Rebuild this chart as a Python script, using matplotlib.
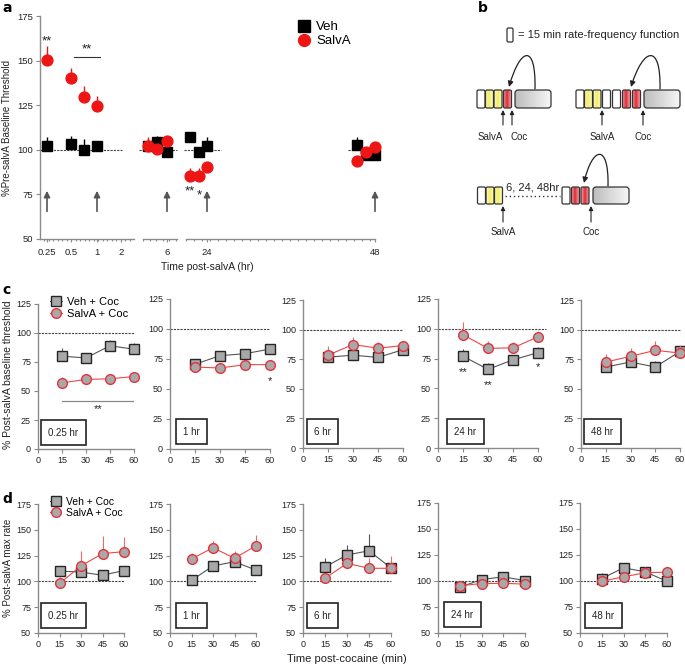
import numpy as np
import matplotlib
matplotlib.use('Agg')
import matplotlib.pyplot as plt
from matplotlib.patches import FancyBboxPatch, FancyArrowPatch
from matplotlib.path import Path
from matplotlib.lines import Line2D
from matplotlib.colors import LinearSegmentedColormap

W, H = 685, 665
plt.rcParams['font.family'] = ['Liberation Sans Narrow', 'Liberation Sans', 'DejaVu Sans']
plt.rcParams['font.size'] = 7

# ---------------- data: panel a ----------------
a_time = [0.25, 0.5, 0.75, 1, 4, 5, 6, 22, 23, 24, 46, 47, 48]
a_veh = [102, 103.5, 100, 102, 102, 104.5, 99, 107, 99, 102, 102.5, 97, 97]
a_veh_err = [5, 4, 6, 2, 4, 3.5, 1, 1, 2, 5, 4.5, 1, 1]
a_salva = [150.5, 140, 129.5, 124.5, 102, 100.5, 105, 85.5, 85.5, 90.5, 94, 99, 101.5]
a_salva_err = [7.5, 6, 6.5, 5.5, 5, 1, 3, 4.5, 4.5, 1, 1, 2, 2]
a_ticks = [0.25, 0.5, 1, 2, 6, 24, 48]
a_tick_labels = ['0.25', '0.5', '1', '2', '6', '24', '48']
a_arrow_times = [0.25, 1, 6, 24, 48]

# ---------------- data: panels c, d ----------------
cd_time = [15, 30, 45, 60]
session_labels = ['0.25 hr', '1 hr', '6 hr', '24 hr', '48 hr']

c_veh = [[80, 78.5, 89, 86], [70.6, 77.8, 79.4, 83.3], [76.7, 78.4, 76.5, 83],
         [77, 66, 74, 80], [68.4, 72.6, 68.4, 81.6]]
c_veh_err = [[7, 4, 5, 5], [2, 3, 3, 4], [2, 2, 2, 2], [6, 5, 2, 5], [2, 2, 5, 2]]
c_salva = [[57, 60, 60.5, 62.5], [68.3, 67.5, 70.3, 70.3], [78.4, 87.4, 84.3, 86.5],
           [95, 83.6, 84, 93.3], [72.6, 77.4, 82.5, 80.2]]
c_salva_err = [[5, 3, 2, 2], [2, 2, 2, 2], [8, 6, 5, 4], [11, 6, 5, 5], [7, 7, 8, 7]]

d_veh = [[110, 109, 106, 110.5], [101, 115, 119, 111], [114, 125.6, 129.7, 113],
         [94, 101.4, 104, 100.4], [102.3, 112.7, 108.8, 99.7]]
d_veh_err = [[5, 3, 4, 3], [5, 5, 3, 2], [9, 10, 16, 2], [2, 2, 3, 2], [5, 3, 3, 2]]
d_salva = [[98, 115, 127, 128.8], [121.7, 132.7, 122.4, 134.6], [103, 117.5, 112.7, 112.7],
           [95.5, 97.5, 97.8, 97], [99.7, 104, 108, 108.5]]
d_salva_err = [[6, 14, 17, 14], [6, 6, 7, 10], [3, 3, 10, 12], [2, 2, 2, 2], [6, 3, 5, 5]]

# ---------------- figure ----------------
fig = plt.figure(figsize=(W / 100, H / 100), dpi=100)

def px_axes(l, t, r, b, **kw):
    return fig.add_axes([l / W, 1 - b / H, (r - l) / W, (b - t) / H], **kw)

ov = fig.add_axes([0, 0, 1, 1])
ov.set_axis_off()
ov.patch.set_visible(False)

AXC = '#8a8a8a'
TXT = '#222222'

def style_axes(ax, fs=6.5):
    for s in ['top', 'right']:
        ax.spines[s].set_visible(False)
    for s in ['left', 'bottom']:
        ax.spines[s].set_color(AXC)
        ax.spines[s].set_linewidth(1.0)
    ax.tick_params(axis='both', which='both', color=AXC, labelcolor=TXT,
                   labelsize=fs, direction='out', length=3, width=0.8, pad=2)
    ax.patch.set_visible(False)

# ================= panel a =================
KH = [0, 0.25, 0.5, 1, 2, 3, 3.5, 6, 7, 21.5, 24, 46, 48, 49]
KP = [40, 47, 71, 97, 121, 134, 143, 167, 177, 186, 207, 357, 375, 382]
fwd = lambda x: np.interp(x, KH, KP)
inv = lambda p: np.interp(p, KP, KH)

axa = px_axes(40, 16, 382, 239)
style_axes(axa, fs=6.8)
axa.set_xscale('function', functions=(fwd, inv))
axa.set_xlim(0, 49)
axa.set_ylim(50, 175)
axa.set_yticks(np.arange(50, 176, 25))
axa.set_xticks(a_ticks)
axa.set_xticklabels(a_tick_labels)
minor_px = np.concatenate([np.arange(44, 134, 4.5), np.arange(143, 178, 6.5), np.arange(186, 376, 8)])
axa.set_xticks(inv(minor_px), minor=True)
axa.tick_params(axis='x', which='minor', length=1.5)
axa.tick_params(axis='x', which='major', length=2.5, pad=4)
axa.spines['bottom'].set_visible(False)
for h0, h1 in [(0, 3), (3.5, 7), (21.5, 48)]:
    axa.plot([h0, h1], [0, 0], transform=axa.get_xaxis_transform(), color=AXC, lw=1.0, clip_on=False)
for h0, h1 in [(0, 2.04), (3.28, 7), (18.3, 26), (44.7, 49)]:
    axa.plot([h0, h1], [100, 100], color='#444', lw=0.8, ls=(0, (2, 1)), zorder=1)

for t in a_arrow_times:
    axa.annotate('', xy=(t, 77), xytext=(t, 65.5),
                 arrowprops=dict(arrowstyle='-|>', color='#555', lw=1.2, mutation_scale=9,
                                 shrinkA=0, shrinkB=0))

axa.errorbar(a_time, a_veh, yerr=[np.zeros(len(a_veh)), a_veh_err], fmt='s', color='black',
             ms=7.2, elinewidth=1, capsize=0, zorder=3)
axa.errorbar(a_time, a_salva, yerr=[np.zeros(len(a_salva)), a_salva_err], fmt='o', color='#ee1515',
             ms=7.8, elinewidth=1, capsize=0, zorder=4)

axa.text(0.25, 161, '**', ha='center', va='center', fontsize=9.5, color=TXT)
axa.plot([0.56, 1.125], [152, 152], color='#333', lw=0.8)
axa.text(0.8, 156.5, '**', ha='center', va='center', fontsize=9.5, color=TXT)
axa.text(22, 76.5, '**', ha='center', va='center', fontsize=9.5, color=TXT)
axa.text(23.1, 74.5, '*', ha='center', va='center', fontsize=9.5, color=TXT)

leg_a = axa.legend(handles=[Line2D([], [], marker='s', color='black', ls='none', ms=8),
                            Line2D([], [], marker='o', color='#ee1515', ls='none', ms=8.5)],
                   labels=['Veh', 'SalvA'], loc='upper left', bbox_to_anchor=(299 / W, 1 - 21 / H),
                   bbox_transform=fig.transFigure, frameon=False, fontsize=9.5, handlelength=0.8,
                   handletextpad=0.5, labelspacing=0.15, borderpad=0, borderaxespad=0)

ov.text(7, 128, '%Pre-salvA Baseline Threshold', rotation=90, ha='center', va='center', fontsize=7, color=TXT)
ov.text(207, 267, 'Time post-salvA (hr)', ha='center', va='center', fontsize=7.5, color=TXT)

# ================= panel b (schematic) =================
cm_y = LinearSegmentedColormap.from_list('yy', ['#fbfbd0', '#f2ee60', '#fbfbc8'])
cm_r = LinearSegmentedColormap.from_list('rr', ['#f6b0b4', '#e02a36', '#f4a0a6'])
cm_g = LinearSegmentedColormap.from_list('gg', ['#bdbdbd', '#f6f6f6'])
grad = np.linspace(0, 1, 64).reshape(1, -1)

def box(x, y, w, h, kind):
    p = FancyBboxPatch((x, y), w, h, boxstyle='round,pad=0,rounding_size=%s' % (3 if kind == 'g' else 1.5),
                       fc='white' if kind == 'w' else 'none', ec='#333', lw=0.9, zorder=3)
    ov.add_patch(p)
    if kind in 'yrg':
        cm = {'y': cm_y, 'r': cm_r, 'g': cm_g}[kind]
        im = ov.imshow(grad, extent=(x, x + w, y + h, y), aspect='auto', cmap=cm, zorder=2,
                       interpolation='bilinear')
        im.set_clip_path(p)

def up_arrow(x, y0, y1):
    ov.annotate('', xy=(x, y1), xytext=(x, y0),
                arrowprops=dict(arrowstyle='-|>', color='#222', lw=0.8, mutation_scale=6,
                                shrinkA=0, shrinkB=0))

def hook(p0, c1, c2, p1):
    path = Path([p0, c1, c2, p1], [Path.MOVETO, Path.CURVE4, Path.CURVE4, Path.CURVE4])
    ov.add_patch(FancyArrowPatch(path=path, arrowstyle='-|>', mutation_scale=8, color='#222', lw=0.9))

# legend box
box(507, 28, 6, 14, 'w')
ov.text(518, 35.5, '= 15 min rate-frequency function', ha='left', va='center', fontsize=8, color=TXT)

# row 1 left
for x, k in zip([477, 485.5, 494, 503.5], ['w', 'y', 'y', 'r']):
    box(x, 90, 8, 18, k)
box(515, 90, 36, 18, 'g')
hook((535, 89), (536, 42), (520, 48), (509, 87))
up_arrow(503, 125, 110)
up_arrow(512, 125, 110)
ov.text(503, 137, 'SalvA', ha='right', va='center', fontsize=7, color=TXT)
ov.text(510.5, 137, 'Coc', ha='left', va='center', fontsize=7, color=TXT)

# row 1 right
for x, k in zip([576, 584.5, 593, 602.5, 612.5, 622.5, 632.5], ['w', 'y', 'y', 'w', 'w', 'r', 'r']):
    box(x, 90, 8, 18, k)
box(644, 90, 36, 18, 'g')
hook((660, 89), (661, 42), (643, 48), (631, 87))
up_arrow(602, 125, 110)
up_arrow(643, 125, 110)
ov.text(602, 137, 'SalvA', ha='center', va='center', fontsize=7, color=TXT)
ov.text(643, 137, 'Coc', ha='center', va='center', fontsize=7, color=TXT)

# row 2
for x, k in zip([477.5, 486, 494.5], ['w', 'y', 'y']):
    box(x, 187, 8, 17, k)
for x, k in zip([562, 571.5, 581], ['w', 'r', 'r']):
    box(x, 187, 8, 17, k)
box(593, 187, 36, 17, 'g')
ov.plot([505, 560], [196, 196], color='#333', lw=1.0, ls=(0, (1, 2)))
ov.text(533, 188, '6, 24, 48hr', ha='center', va='center', fontsize=8, color=TXT)
hook((608, 186), (609, 142), (592, 147), (584, 183))
up_arrow(503, 222, 206)
up_arrow(591, 222, 206)
ov.text(503, 232, 'SalvA', ha='center', va='center', fontsize=7, color=TXT)
ov.text(591, 232, 'Coc', ha='center', va='center', fontsize=7, color=TXT)

# ================= panels c, d =================
c_rects = [(38, 304, 134, 449), (170, 299, 270, 449), (303, 300, 403, 448),
           (438, 299, 538, 448), (581, 300, 680, 448)]
d_rects = [(38, 504, 124, 633), (170, 504, 256, 633), (303, 504, 391, 633),
           (438, 503, 525, 633), (580, 503, 667, 633)]
c_box_dx = [3, 6, 4, 9, 3]
d_box_dx = [3, 6, 4, 6, 5]
c_box_dy = [4, 5, 4, 4, 4]
d_box_dy = [5, 5, 5, 6, 5]

VEH_KW = dict(marker='s', mfc='#a8a8a8', mec='#262626', mew=1.0, ms=6.5, color='#555555', lw=0.8)
SAL_KW = dict(marker='o', mfc='#a8a8a8', mec='#e5333b', mew=1.0, ms=7, color='#e84848', lw=0.8)

def cd_panel(rect, veh, veh_err, sal, sal_err, ylim, yticks, label, dx, dy, dash_end=60):
    ax = px_axes(*rect)
    style_axes(ax)
    ax.set_xlim(0, 60)
    ax.set_ylim(*ylim)
    ax.set_xticks([0, 15, 30, 45, 60])
    ax.set_yticks(yticks)
    ax.plot([0, dash_end], [100, 100], color='#444', lw=0.8, ls=(0, (2, 1)), zorder=1, clip_on=False)
    ax.errorbar(cd_time, veh, yerr=[np.zeros(4), veh_err], ecolor='#555555', elinewidth=0.8,
                capsize=0, zorder=3, clip_on=False, **VEH_KW)
    ax.errorbar(cd_time, sal, yerr=[np.zeros(4), sal_err], ecolor='#e86a6a', elinewidth=0.8,
                capsize=0, zorder=4, clip_on=False, **SAL_KW)
    fs = 7
    pad = 0.75
    pad_pt = pad * fs
    ax.annotate(label, xy=(0, 0), xycoords='axes fraction',
                xytext=(dx * 0.72 + pad_pt, dy * 0.72 + pad_pt), textcoords='offset points',
                ha='left', va='bottom', fontsize=fs, color=TXT,
                bbox=dict(boxstyle='square,pad=%s' % pad, fc='white', ec='#222', lw=1.2))
    return ax

c_axes = []
for i in range(5):
    ax = cd_panel(c_rects[i], c_veh[i], c_veh_err[i], c_salva[i], c_salva_err[i],
                  (0, 125), np.arange(0, 126, 25), session_labels[i], c_box_dx[i], c_box_dy[i],
                  dash_end=65 if i == 3 else 60)
    c_axes.append(ax)

d_axes = []
for i in range(5):
    ax = cd_panel(d_rects[i], d_veh[i], d_veh_err[i], d_salva[i], d_salva_err[i],
                  (50, 175), np.arange(50, 176, 25), session_labels[i], d_box_dx[i], d_box_dy[i])
    d_axes.append(ax)

# significance in c
c_axes[0].plot([15, 60], [41, 41], color='#888', lw=0.9)
c_axes[0].text(37.5, 34, '**', ha='center', va='center', fontsize=8, color=TXT)
c_axes[1].text(60, 57, '*', ha='center', va='center', fontsize=8, color=TXT)
c_axes[3].text(15, 64, '**', ha='center', va='center', fontsize=8, color=TXT)
c_axes[3].text(30, 53, '**', ha='center', va='center', fontsize=8, color=TXT)
c_axes[3].text(60, 68, '*', ha='center', va='center', fontsize=8, color=TXT)

# legends
veh_h = Line2D([], [], **VEH_KW)
sal_h = Line2D([], [], **SAL_KW)
c_axes[0].legend(handles=[veh_h, sal_h], labels=['Veh + Coc', 'SalvA + Coc'], loc='upper left',
                 bbox_to_anchor=(50 / W, 1 - 297 / H), bbox_transform=fig.transFigure, frameon=False,
                 fontsize=8, handlelength=1.1, handletextpad=0.4, labelspacing=0.15,
                 borderpad=0, borderaxespad=0)
d_axes[0].legend(handles=[veh_h, sal_h], labels=['Veh + Coc', 'SalvA + Coc'], loc='upper left',
                 bbox_to_anchor=(50 / W, 1 - 497 / H), bbox_transform=fig.transFigure, frameon=False,
                 fontsize=7.5, handlelength=1.1, handletextpad=0.4, labelspacing=0.1,
                 borderpad=0, borderaxespad=0)

ov.text(8, 375, '% Post-salvA baseline threshold', rotation=90, ha='center', va='center', fontsize=7.5, color=TXT)
ov.text(8, 568, '% Post-salvA max rate', rotation=90, ha='center', va='center', fontsize=7, color=TXT)
ov.text(347, 659, 'Time post-cocaine (min)', ha='center', va='center', fontsize=8, color=TXT)

# panel letters
for x, y, s in [(2, 8, 'a'), (478, 8, 'b'), (2, 290, 'c'), (2, 499, 'd')]:
    ov.text(x, y, s, ha='left', va='center', fontsize=10, fontweight='bold', color='black',
            family=['DejaVu Sans'])

ov.set_xlim(0, W)
ov.set_ylim(H, 0)

fig.savefig('out.png', dpi=100)
